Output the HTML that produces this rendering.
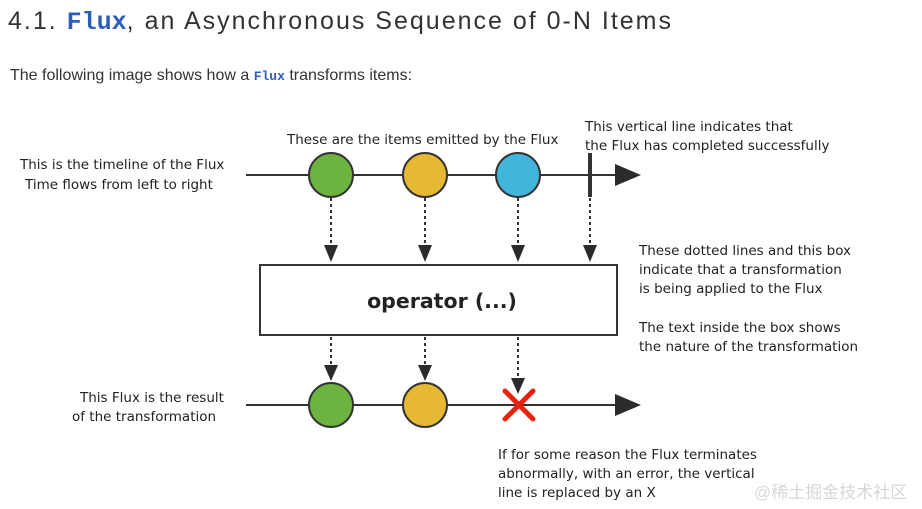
<!DOCTYPE html>
<html><head><meta charset="utf-8"><style>
html,body{margin:0;padding:0;background:#fff;width:922px;height:509px;overflow:hidden}
svg{display:block}
</style></head><body>
<svg width="922" height="509" viewBox="0 0 922 509" xmlns="http://www.w3.org/2000/svg">
<text x="8" y="29" font-family="Liberation Sans, sans-serif" font-size="25" letter-spacing="2" fill="#333">4.1. <tspan font-family="Liberation Mono, monospace" font-weight="bold" fill="#2c5fb8" letter-spacing="0">Flux</tspan>, an Asynchronous Sequence of 0-N Items</text>
<text x="10" y="80" font-family="Liberation Sans, sans-serif" font-size="16" fill="#333">The following image shows how a <tspan font-family="Liberation Mono, monospace" font-weight="bold" fill="#2c5fb8" font-size="13">Flux</tspan> transforms items:</text>
<g font-family="DejaVu Sans, sans-serif" font-size="13.5" fill="#222">
<text x="20" y="169">This is the timeline of the Flux</text>
<text x="25" y="189">Time flows from left to right</text>
<text x="287" y="144">These are the items emitted by the Flux</text>
<text x="585" y="131">This vertical line indicates that</text>
<text x="585" y="150">the Flux has completed successfully</text>
<text x="639" y="255">These dotted lines and this box</text>
<text x="639" y="274">indicate that a transformation</text>
<text x="639" y="293">is being applied to the Flux</text>
<text x="639" y="332">The text inside the box shows</text>
<text x="639" y="351">the nature of the transformation</text>
<text x="80" y="402">This Flux is the result</text>
<text x="72" y="421">of the transformation</text>
<text x="498" y="459">If for some reason the Flux terminates</text>
<text x="498" y="478">abnormally, with an error, the vertical</text>
<text x="498" y="497">line is replaced by an X</text>
</g>
<text x="754" y="498" font-family="Liberation Sans, Noto Sans CJK SC, sans-serif" font-size="17" fill="#d8d8d8">@稀土掘金技术社区</text>
<line x1="246" y1="175" x2="620" y2="175" stroke="#333" stroke-width="2"/>
<path d="M615,164 L641,175 L615,186 z" fill="#2b2b2b"/>
<circle cx="331" cy="175" r="22" fill="#6db33f" stroke="#333" stroke-width="2"/>
<circle cx="425" cy="175" r="22" fill="#e5b932" stroke="#333" stroke-width="2"/>
<circle cx="518" cy="175" r="22" fill="#42b5dc" stroke="#333" stroke-width="2"/>
<line x1="590" y1="153" x2="590" y2="197" stroke="#333" stroke-width="4"/>
<g stroke="#333" stroke-width="2" stroke-dasharray="3,3">
<line x1="331" y1="198" x2="331" y2="246"/>
<line x1="425" y1="198" x2="425" y2="246"/>
<line x1="518" y1="198" x2="518" y2="246"/>
<line x1="590" y1="198" x2="590" y2="246"/>
<line x1="331" y1="337" x2="331" y2="366"/>
<line x1="425" y1="337" x2="425" y2="366"/>
<line x1="518" y1="337" x2="518" y2="380"/>
</g>
<g fill="#2b2b2b">
<path d="M324,245 L338,245 L331,262 z"/>
<path d="M418,245 L432,245 L425,262 z"/>
<path d="M511,245 L525,245 L518,262 z"/>
<path d="M583,245 L597,245 L590,262 z"/>
<path d="M324,365 L338,365 L331,381 z"/>
<path d="M418,365 L432,365 L425,381 z"/>
<path d="M511,378 L525,378 L518,394 z"/>
</g>
<rect x="260" y="265" width="357" height="70" fill="#fff" stroke="#333" stroke-width="2"/>
<text x="442" y="308" text-anchor="middle" font-family="DejaVu Sans, sans-serif" font-weight="bold" font-size="20.5" fill="#222">operator (...)</text>
<line x1="246" y1="405" x2="620" y2="405" stroke="#333" stroke-width="2"/>
<path d="M615,394 L641,405 L615,416 z" fill="#2b2b2b"/>
<circle cx="331" cy="405" r="22" fill="#6db33f" stroke="#333" stroke-width="2"/>
<circle cx="425" cy="405" r="22" fill="#e5b932" stroke="#333" stroke-width="2"/>
<g stroke="#e8220f" stroke-width="5" stroke-linecap="round">
<line x1="505" y1="391" x2="533" y2="419"/>
<line x1="533" y1="391" x2="505" y2="419"/>
</g>
</svg>
</body></html>
